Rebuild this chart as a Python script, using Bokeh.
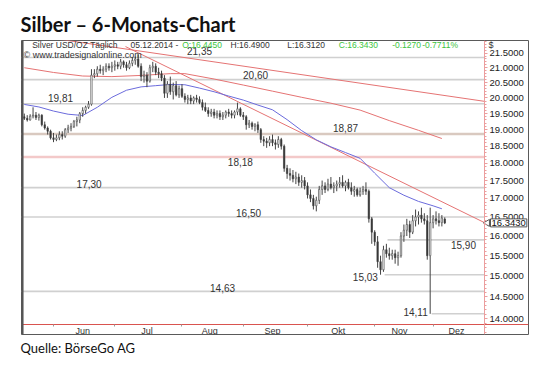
import math
from bokeh.plotting import figure
from bokeh.models import (Range1d, FixedTicker, PrintfTickFormatter,
                          Title, Label, Span, ColumnDataSource)
from bokeh.core.properties import value
from bokeh.embed import file_html
from bokeh.resources import INLINE

# ---------------- data ----------------
# trading-day index: 0 = Mon 2014-06-02, first bar = 2014-05-19, last bar = 2014-12-05
first_bar = -10
opens = [19.40, 19.35, 19.30, 19.42, 19.45, 19.38, 19.45, 19.15, 19.05, 18.95,
         18.75, 18.70, 18.75, 18.85, 18.80, 19.00, 19.05, 19.10, 19.25, 19.30,
         19.50, 19.60, 19.70, 19.80, 20.75, 20.80, 20.95, 20.90, 20.95, 21.05,
         21.00, 21.05, 21.10, 21.05, 21.20, 21.10, 21.00, 21.15, 21.25, 21.30,
         21.05, 20.70, 20.75, 20.55, 21.00, 21.05, 20.85, 20.80, 20.65, 20.15,
         20.45, 20.20, 20.40, 20.10, 20.30, 20.05, 19.95, 20.00, 19.90, 20.00,
         19.95, 19.85, 19.70, 19.60, 19.50, 19.55, 19.45, 19.50, 19.40, 19.45,
         19.55, 19.50, 19.45, 19.55, 19.65, 19.45, 19.40, 19.15, 19.20, 19.10,
         19.15, 19.00, 18.70, 18.65, 18.60, 18.70, 18.60, 18.55, 18.70, 18.50,
         17.85, 17.70, 17.65, 17.55, 17.60, 17.45, 17.50, 17.35, 17.10, 17.00,
         16.80, 16.95, 17.25, 17.35, 17.25, 17.40, 17.30, 17.35, 17.40, 17.45,
         17.35, 17.45, 17.30, 17.20, 17.25, 17.10, 17.20, 17.25, 17.20, 16.45,
         16.10, 15.85, 15.35, 15.15, 15.65, 15.55, 15.50, 15.55, 15.45, 15.50,
         16.00, 16.15, 16.30, 16.10, 16.40, 16.50, 16.55, 16.45, 16.40, 15.50,
         16.35, 16.45, 16.40, 16.35, 16.445]
highs = [19.50, 19.45, 19.48, 19.70, 19.55, 19.50, 19.48, 19.25, 19.10, 19.00,
         18.90, 18.85, 18.95, 18.95, 19.05, 19.15, 19.20, 19.30, 19.40, 19.55,
         19.70, 19.75, 19.90, 20.95, 20.95, 21.05, 21.10, 21.05, 21.15, 21.15,
         21.20, 21.25, 21.20, 21.30, 21.25, 21.20, 21.25, 21.35, 21.38, 21.45,
         21.15, 20.90, 20.85, 21.10, 21.20, 21.15, 21.00, 20.90, 20.75, 20.55,
         20.70, 20.50, 20.55, 20.40, 20.45, 20.15, 20.10, 20.10, 20.05, 20.10,
         20.05, 19.95, 19.85, 19.70, 19.65, 19.65, 19.60, 19.60, 19.55, 19.60,
         19.65, 19.60, 19.60, 19.85, 19.70, 19.55, 19.45, 19.30, 19.25, 19.20,
         19.25, 19.05, 18.80, 18.75, 18.80, 18.85, 18.70, 18.80, 18.75, 18.55,
         17.95, 17.85, 17.80, 17.75, 17.70, 17.65, 17.60, 17.45, 17.25, 17.10,
         17.05, 17.35, 17.50, 17.45, 17.55, 17.60, 17.45, 17.50, 17.60, 17.65,
         17.50, 17.55, 17.45, 17.35, 17.30, 17.30, 17.35, 17.45, 17.25, 16.50,
         16.15, 16.00, 15.50, 15.75, 15.80, 15.70, 15.65, 15.65, 15.60, 16.10,
         16.30, 16.45, 16.40, 16.55, 16.70, 16.65, 16.75, 16.60, 16.55, 16.75,
         16.55, 16.65, 16.60, 16.55, 16.49]
lows = [19.30, 19.25, 19.28, 19.35, 19.30, 19.28, 19.10, 19.00, 18.85, 18.70,
        18.62, 18.65, 18.68, 18.70, 18.75, 18.90, 18.95, 19.05, 19.10, 19.20,
        19.40, 19.50, 19.65, 19.75, 20.65, 20.70, 20.80, 20.75, 20.85, 20.90,
        20.85, 20.90, 20.95, 20.95, 21.00, 20.90, 20.95, 21.05, 21.10, 21.00,
        20.55, 20.50, 20.35, 20.50, 20.85, 20.75, 20.65, 20.55, 20.00, 20.00,
        20.10, 19.95, 20.05, 20.00, 20.00, 19.85, 19.80, 19.80, 19.80, 19.85,
        19.80, 19.60, 19.55, 19.40, 19.40, 19.35, 19.35, 19.30, 19.30, 19.35,
        19.40, 19.35, 19.35, 19.45, 19.40, 19.30, 19.00, 19.05, 19.00, 18.95,
        18.90, 18.60, 18.50, 18.45, 18.50, 18.50, 18.40, 18.45, 18.40, 17.75,
        17.55, 17.50, 17.45, 17.40, 17.35, 17.30, 17.25, 17.00, 16.90, 16.70,
        16.65, 16.85, 17.10, 17.15, 17.20, 17.25, 17.15, 17.20, 17.30, 17.30,
        17.20, 17.25, 17.10, 17.05, 17.05, 17.05, 17.10, 17.10, 16.35, 15.80,
        15.75, 15.20, 15.03, 15.10, 15.45, 15.40, 15.40, 15.30, 15.25, 15.45,
        15.85, 16.00, 15.95, 16.05, 16.25, 16.30, 16.35, 16.30, 15.40, 14.11,
        16.20, 16.30, 16.25, 16.25, 16.312]
closes = [19.35, 19.30, 19.42, 19.45, 19.38, 19.45, 19.15, 19.05, 18.95, 18.75,
          18.70, 18.75, 18.85, 18.80, 19.00, 19.05, 19.10, 19.25, 19.30, 19.50,
          19.60, 19.70, 19.80, 20.75, 20.80, 20.95, 20.90, 20.95, 21.05, 21.00,
          21.05, 21.10, 21.05, 21.20, 21.10, 21.00, 21.15, 21.25, 21.30, 21.05,
          20.70, 20.75, 20.55, 21.00, 21.05, 20.85, 20.80, 20.65, 20.15, 20.45,
          20.20, 20.40, 20.10, 20.30, 20.05, 19.95, 20.00, 19.90, 20.00, 19.95,
          19.85, 19.70, 19.60, 19.50, 19.55, 19.45, 19.50, 19.40, 19.45, 19.55,
          19.50, 19.45, 19.55, 19.65, 19.45, 19.40, 19.15, 19.20, 19.10, 19.15,
          19.00, 18.70, 18.65, 18.60, 18.70, 18.60, 18.55, 18.70, 18.50, 17.85,
          17.70, 17.65, 17.55, 17.60, 17.45, 17.50, 17.35, 17.10, 17.00, 16.80,
          16.95, 17.25, 17.35, 17.25, 17.40, 17.30, 17.35, 17.40, 17.45, 17.35,
          17.45, 17.30, 17.20, 17.25, 17.10, 17.20, 17.25, 17.20, 16.45, 16.10,
          15.85, 15.35, 15.15, 15.65, 15.55, 15.50, 15.55, 15.45, 15.50, 16.00,
          16.15, 16.30, 16.10, 16.40, 16.50, 16.55, 16.45, 16.40, 15.50, 16.35,
          16.45, 16.40, 16.35, 16.47, 16.343]

# moving averages (read at selected bars)
ma_fast_bars = [-10, -5, 0, 5, 10, 15, 20, 25, 30, 35, 40, 45, 50, 55, 60, 65, 70,
                75, 80, 85, 90, 95, 100, 105, 110, 115, 120, 125, 130, 133]
ma_fast = [19.79, 19.71, 19.58, 19.48, 19.44, 19.70, 20.02, 20.25, 20.36, 20.40,
           20.44, 20.43, 20.32, 20.20, 20.06, 19.93, 19.77, 19.62, 19.31, 18.97,
           18.69, 18.48, 18.31, 18.14, 17.71, 17.30, 17.09, 16.92, 16.80, 16.72]
ma_slow_bars = [-10, 0, 10, 20, 30, 40, 45, 55, 65, 75, 85, 95, 105, 115, 125, 133]
ma_slow = [21.00, 20.84, 20.72, 20.70, 20.74, 20.80, 20.80, 20.62, 20.42, 20.22,
           20.02, 19.83, 19.61, 19.28, 18.98, 18.73]

# trend lines (two anchor points each: bar index, price)
trend1_bars = [-10.7, 147.6]
trend1_prices = [22.18, 19.89]
trend2_bars = [24.66, 147.6]
trend2_prices = [21.73, 16.35]

# horizontal support / resistance levels
levels = [21.35, 20.60, 19.81, 18.87, 18.18, 17.30, 16.50, 15.90, 15.03, 14.63, 14.11]
level_start_bars = [None, None, None, None, None, None, None, 114.4, 113.4, None, 129.5]

month_names = ["Jun", "Jul", "Aug", "Sep", "Okt", "Nov", "Dez"]
month_start_bars = [0, 21, 44, 65, 87, 110, 130]

y_ticks = [14.0, 14.5, 15.0, 15.5, 16.0, 16.5, 17.0, 17.5, 18.0, 18.5, 19.0,
           19.5, 20.0, 20.5, 21.0, 21.5]

# ---------------- layout constants ----------------
BAR0_PX = 53.0       # page x of bar 0
BAR_PX = 2.92        # px per bar
REF_PRICE, REF_PX = 21.5, 52.7
PX_PER_LN = 621.0
FL, FR, FT, FB = 21, 528, 40, 335   # frame in page px
AXIS_PX = 484
XAXIS_PX = 325

def px_bar(xp):
    return (xp - BAR0_PX) / BAR_PX

def py_price(yp):
    return REF_PRICE * math.exp(-(yp - REF_PX) / PX_PER_LN)

month_label_bars = [10, 32, 53.5, 75, 97.5, 118.5, 138]
label_bars = [50.0, 69.2, 2.4, 100.0, 64.0, 12.2, 66.8, 140.4, 106.8, 57.9, 124.0]
label_dy = [-7, -5, -5.5, -5.7, 4.7, -3.5, -4.4, 5, 2, -3.4, -1.4]

x0, x1 = px_bar(FL), px_bar(FR)
y0, y1 = py_price(FB), py_price(FT)
axis_bar = px_bar(AXIS_PX)

FONT = "Liberation Sans"
TFONT = "Lato"
RED = "#e57373"
BLUE = "#6b6bdc"

p = figure(width=532, height=358, x_range=Range1d(x0, x1), y_range=Range1d(y0, y1),
           y_axis_type="log", y_axis_location="right", x_axis_location="below",
           output_backend="svg", toolbar_location=None,
           min_border_left=FL, min_border_right=532 - FR, min_border_top=FT,
           min_border_bottom=358 - FB)
p.xgrid.visible = False
p.ygrid.visible = False
p.outline_line_color = "#5a5a5a"
p.outline_line_width = 1
p.background_fill_color = "white"
p.border_fill_color = "white"

# title
p.title.text = "Silber – 6-Monats-Chart"
p.title.text_font = TFONT
p.title.text_font_size = "20px"
p.title.text_font_style = "bold"
p.title.text_color = "#111111"
p.title.align = "left"
p.title.standoff = 9
p.title.offset = -1

src_t = Title(text="Quelle: BörseGo AG", align="left", text_font=TFONT,
              text_font_size="13px", text_font_style="normal", text_color="#111111",
              standoff=6, offset=-1)
p.add_layout(src_t, "below")

# left thick border
p.add_layout(Span(location=px_bar(21.8), dimension="height", line_color="#555555", line_width=2.5))

# support / resistance lines
styles = {18.87: ("#d9c9c0", 2.5), 18.18: ("#f3c9c9", 2.5)}
for lvl, sb in zip(levels, level_start_bars):
    col, w = styles.get(lvl, ("#d0d0d0", 1.6))
    p.segment(x0=[sb if sb is not None else x0], y0=[lvl], x1=[axis_bar], y1=[lvl],
              line_color=col, line_width=w)

lab_y = [lvl * math.exp(-dy / PX_PER_LN) for lvl, dy in zip(levels, label_dy)]
lab_t = [f"{lvl:.2f}".replace(".", ",") for lvl in levels]
p.text(x=label_bars, y=lab_y, text=lab_t, text_font=value(FONT), text_font_size="10px",
       text_color="#333333", text_align="center", text_baseline="middle")

# trend lines and moving averages
p.line(trend1_bars, trend1_prices, line_color=RED, line_width=1)
p.line(trend2_bars, trend2_prices, line_color=RED, line_width=1)
p.line(ma_slow_bars, ma_slow, line_color=RED, line_width=1)
p.line(ma_fast_bars, ma_fast, line_color=BLUE, line_width=1)

# candles
bars = list(range(first_bar, first_bar + len(closes)))
src = ColumnDataSource(dict(
    x=bars, h=highs, l=lows,
    top=[max(o, c) for o, c in zip(opens, closes)],
    bottom=[min(o, c) for o, c in zip(opens, closes)],
    fill=["#333333" if c < o else "#ffffff" for o, c in zip(opens, closes)]))
p.segment(x0="x", y0="l", x1="x", y1="h", source=src, line_color="#444444", line_width=1)
p.vbar(x="x", width=0.5, top="top", bottom="bottom", source=src,
       fill_color="fill", line_color="#444444", line_width=0.6)

# right price axis (inside the box)
yax = p.yaxis[0]
yax.fixed_location = axis_bar
yax.ticker = FixedTicker(ticks=y_ticks, minor_ticks=[round(13.7 + 0.1 * i, 1) for i in range(83)])
yax.formatter = PrintfTickFormatter(format="%.4f")
yax.axis_line_color = "#eb9e9e"
yax.major_tick_line_color = "#eb9e9e"
yax.minor_tick_line_color = "#eb9e9e"
yax.major_tick_in = 0
yax.major_tick_out = 3
yax.minor_tick_in = 0
yax.minor_tick_out = 2
yax.major_label_standoff = 2
yax.major_label_text_font = FONT
yax.major_label_text_font_size = "9.5px"
yax.major_label_text_color = "#222222"

# bottom axis: month boundaries
xax = p.xaxis[0]
xax.fixed_location = py_price(XAXIS_PX)
xax.ticker = FixedTicker(ticks=month_start_bars)
xax.major_label_overrides = {b: "" for b in month_start_bars}
xax.axis_line_color = "#d9534f"
xax.major_tick_line_color = "#9a9a9a"
xax.major_tick_in = 0
xax.major_tick_out = 2
xax.minor_tick_line_color = None

# month names
p.text(x=month_label_bars, y=[py_price(331)] * len(month_names), text=month_names,
       text_font=value(FONT), text_font_size="9px", text_color="#333333",
       text_align="center", text_baseline="middle")

# header texts
GREEN = "#3cc43c"
DARK = "#333333"
chg = closes[-1] - closes[-2]
hdr = [("Silver USD/OZ Täglich", 31.7, DARK), ("05.12.2014 -", 130, DARK),
       (f"O:{opens[-1]:.4f}", 181.7, GREEN), (f"H:{highs[-1]:.4f}", 230, DARK),
       (f"L:{lows[-1]:.4f}", 286.7, DARK), (f"C:{closes[-1]:.4f}", 338.3, GREEN),
       (f"{chg:.4f}", 391.7, GREEN),
       (f"{chg / closes[-2] * 100:.4f}%", 421.7, GREEN)]
p.text(x=[px_bar(h[1]) for h in hdr], y=[py_price(45)] * len(hdr), text=[h[0] for h in hdr],
       text_color=[h[2] for h in hdr], text_font=value(FONT), text_font_size="8.5px",
       text_align="left", text_baseline="middle")
p.text(x=[px_bar(23)], y=[py_price(54.5)], text=["© www.tradesignalonline.com"],
       text_color=DARK, text_font=value(FONT), text_font_size="9px",
       text_align="left", text_baseline="middle")
p.text(x=[px_bar(488)], y=[py_price(45)], text=["$"], text_color=DARK,
       text_font=value(FONT), text_font_size="9px", text_align="left", text_baseline="middle")

# current price marker
p.scatter(x=[axis_bar + 1.0], y=[closes[-1]], marker="triangle", angle=math.pi / 2,
          size=7, fill_color="white", line_color="#555555")
p.add_layout(Label(x=axis_bar, y=closes[-1], text=f"{closes[-1]:.4f}", x_offset=6,
                   text_baseline="middle", text_font=FONT, text_font_size="9.5px",
                   text_color="#111111", border_line_color="#555555",
                   background_fill_color="white", padding=1))

open("out.html", "w").write(file_html(p, INLINE))
